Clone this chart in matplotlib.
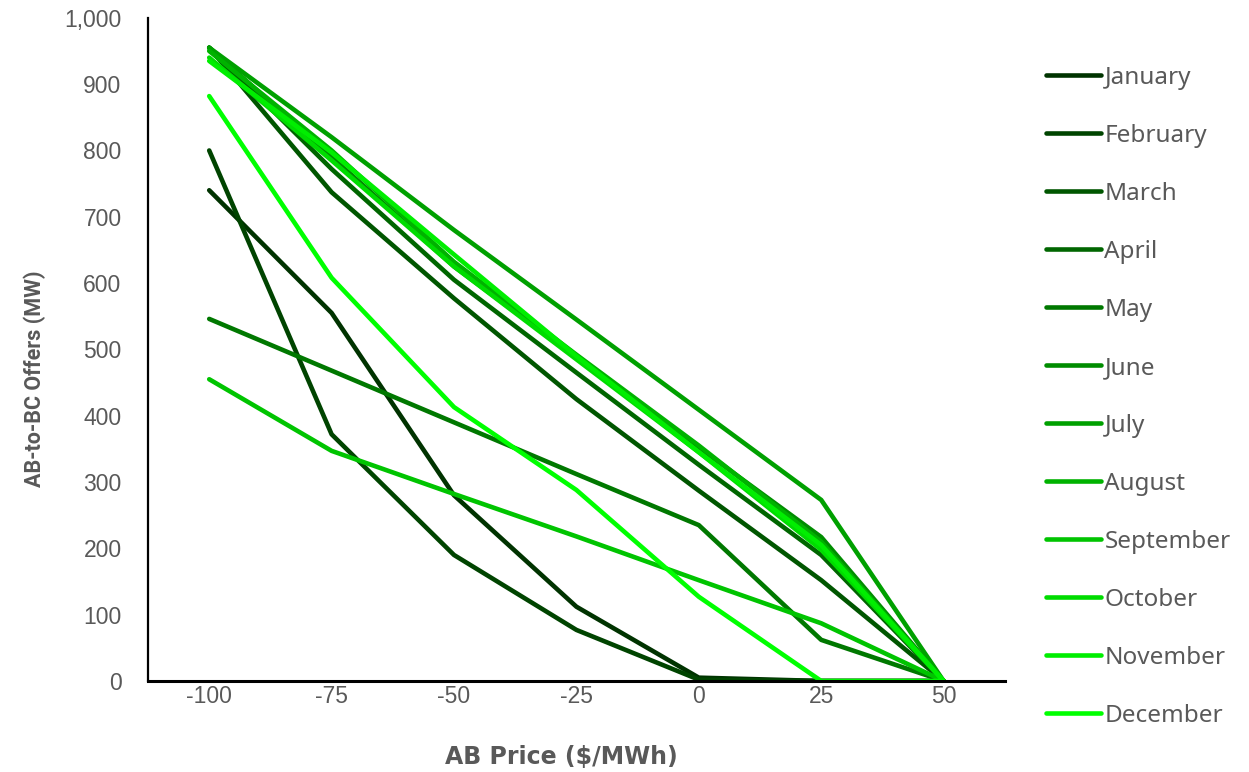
import matplotlib
matplotlib.use("Agg")
import matplotlib.pyplot as plt
from matplotlib.ticker import FuncFormatter

# AB price steps ($/MWh)
prices = ["-100", "-75", "-50", "-25", "0", "25", "50"]

months = ["January", "February", "March", "April", "May", "June",
          "July", "August", "September", "October", "November", "December"]

# AB-to-BC offers (MW) at each price step
january = [740, 555, 280, 112, 5, 0, 0]
february = [800, 372, 190, 77, 2, 0, 0]
march = [955, 737, 577, 425, 287, 152, 0]
april = [955, 772, 605, 465, 326, 190, 0]
may = [546, 468, 390, 312, 235, 62, 0]
june = [955, 790, 625, 488, 352, 217, 0]
july = [955, 820, 680, 545, 409, 273, 0]
august = [950, 800, 632, 492, 355, 210, 0]
september = [455, 347, 282, 218, 152, 87, 0]
october = [940, 785, 625, 485, 345, 198, 0]
november = [935, 797, 643, 490, 345, 205, 0]
december = [882, 608, 413, 288, 127, 0, 0]

series = [january, february, march, april, may, june,
          july, august, september, october, november, december]

colors = ["#003300", "#004400", "#005600", "#006600", "#007800", "#008c00",
          "#00a000", "#00b200", "#00c400", "#00dc00", "#00ee00", "#00ff00"]

GRAY = "#595959"

fig = plt.figure(figsize=(12.49, 7.72), dpi=100)
ax = fig.add_axes([0.1185, 0.1179, 0.686, 0.859])

xpos = list(range(len(prices)))
for name, vals, col in zip(months, series, colors):
    ax.plot(xpos, vals, color=col, lw=3.3, label=name,
            solid_capstyle="round", solid_joinstyle="round")

ax.set_xlim(-0.5, len(prices) - 0.5)
ax.set_ylim(0, 1000)
ax.set_xticks(xpos)
ax.set_xticklabels(prices)
ax.set_yticks(range(0, 1001, 100))
ax.yaxis.set_major_formatter(FuncFormatter(lambda v, p: f"{int(v):,}"))

for lab in ax.get_xticklabels() + ax.get_yticklabels():
    lab.set_fontfamily("Liberation Sans")
    lab.set_fontsize(16.5)
    lab.set_color(GRAY)
ax.tick_params(axis="y", length=0, pad=19)
ax.tick_params(axis="x", length=0, pad=3)

for side in ("top", "right"):
    ax.spines[side].set_visible(False)
ax.spines["left"].set_color("black")
ax.spines["left"].set_linewidth(1.6)
ax.spines["bottom"].set_color("black")
ax.spines["bottom"].set_linewidth(2.2)

ax.set_xlabel("AB Price ($/MWh)", family="DejaVu Sans", weight="bold",
              size=17, color=GRAY)
ax.set_ylabel("AB-to-BC Offers (MW)", family=["Roboto", "Liberation Sans"],
              weight="bold", size=15.5, color=GRAY)
ax.xaxis.set_label_coords(0.483, -0.097)
ax.yaxis.set_label_coords(-0.119, 0.4555)

leg = fig.legend(loc="upper left", bbox_to_anchor=(0.8296, 0.9275),
                 frameon=False, prop={"family": "Noto Sans", "size": 17.5},
                 handlelength=2.26, handletextpad=0.15, labelspacing=1.40,
                 borderaxespad=0)
for t in leg.get_texts():
    t.set_color(GRAY)
for h in leg.get_lines():
    h.set_solid_capstyle("round")
    h.set_linewidth(3.3)

fig.savefig("out.png", dpi=100)
